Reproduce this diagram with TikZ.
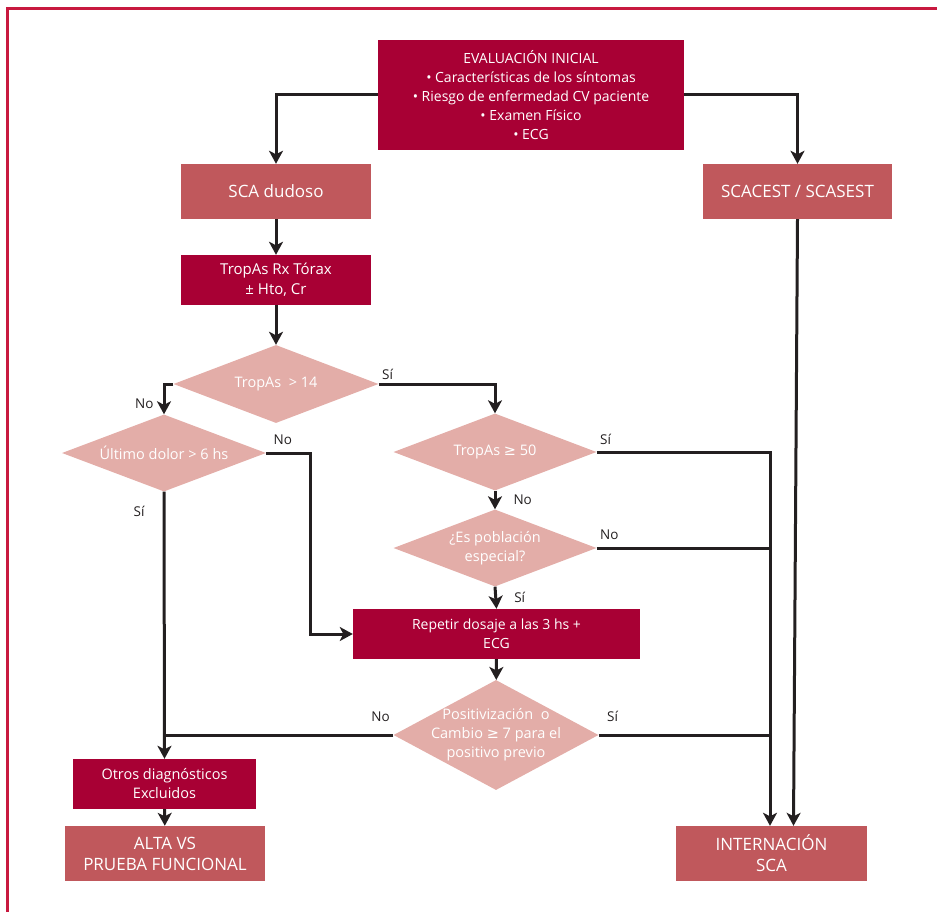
\documentclass[tikz,border=0pt]{standalone}
\usepackage{fontspec}
\setmainfont{Open Sans}
\newfontfamily\symfont{DejaVu Sans}
\usetikzlibrary{shapes.geometric, arrows.meta, positioning}
\newcommand{\geqsym}{{\symfont ≥}}
\definecolor{crimson}{HTML}{A80034}
\definecolor{rose}{HTML}{C0585C}
\definecolor{blush}{HTML}{E3ADA8}
\definecolor{ink}{HTML}{231F20}
\definecolor{framered}{HTML}{C8193F}
\tikzset{x=1pt, y=-1pt, % one unit is one pixel of the reference, y grows downwards
>={Stealth[length=13pt,width=14pt,inset=3.5pt]}, % bold arrow heads
flow/.style={draw=ink, line width=3pt}, % plain connector
flowarrow/.style={flow, ->}, % directed connector
darkbox/.style={fill=crimson, text=white, align=center, inner sep=0pt, font=\fontsize{14.5}{19}\selectfont},
lightbox/.style={fill=rose, text=white, align=center, inner sep=0pt, font=\fontsize{17}{21}\selectfont},
decision/.style={diamond, fill=blush, inner sep=0pt}, % the text is put in as a centre label
dectext/.style={text=white, align=center, font=\fontsize{14.5}{19}\selectfont},
answer/.style={text=ink, inner sep=2pt, font=\fontsize{13.5}{15}\selectfont}, % Sí / No
}

\begin{document}
\begin{tikzpicture}
    \useasboundingbox (0,0) rectangle (937,912);
    \draw[framered, line width=3pt] (7.5,912) -- (7.5,9) -- (937,9);

    \node[darkbox, minimum width=306pt, minimum height=110pt, font=\fontsize{14}{19}\selectfont] (eval) at (531,95)
        {EVALUACIÓN INICIAL\\• Características de los síntomas\\• Riesgo de enfermedad CV paciente\\• Examen Físico\\• ECG};
    \node[lightbox, minimum width=190pt, minimum height=55pt] (dudoso) at (276,191.5) {SCA dudoso};
    \node[lightbox, minimum width=189pt, minimum height=55pt] (scacest) at (797.5,191.5) {SCACEST / SCASEST};
    \node[darkbox, minimum width=190pt, minimum height=50pt, font=\fontsize{15}{20}\selectfont] (tropas) at (276,280) {TropAs Rx Tórax\\± Hto, Cr};

    \node[decision, minimum width=205pt, minimum height=78pt, label={[dectext]center:{TropAs\ \ > 14}}] (d1) at (276,384) {};
    \node[decision, minimum width=204pt, minimum height=77pt, label={[dectext]center:{Último dolor > 6 hs}}] (d2) at (164,453) {};
    \node[decision, minimum width=203pt, minimum height=77pt, label={[dectext]center:{TropAs \geqsym{} 50}}] (d3) at (495,452) {};
    \node[decision, minimum width=203pt, minimum height=77pt, label={[dectext]center:{¿Es población\\especial?}}] (d4) at (495,548) {};
    \node[darkbox, minimum width=287pt, minimum height=50pt, font=\fontsize{14}{19}\selectfont] (repetir) at (496.5,634) {Repetir dosaje a las 3 hs +\\ECG};
    \node[decision, minimum width=205pt, minimum height=110pt, label={[dectext]center:{Positivización\ \ o\\Cambio \geqsym{} 7 para el\\positivo previo}}] (d5) at (496,735) {};

    \node[darkbox, minimum width=183pt, minimum height=50pt] (otros) at (164.5,784) {Otros diagnósticos\\Excluidos};
    \node[lightbox, minimum width=200pt, minimum height=55pt] (alta) at (165,853.5) {ALTA VS\\PRUEBA FUNCIONAL};
    \node[lightbox, minimum width=191pt, minimum height=55pt] (intern) at (771.5,853.5) {INTERNACIÓN\\SCA};
    \coordinate (inL) at ([xshift=-1.5pt]intern.north);
    \coordinate (inR) at ([xshift=22pt]intern.north);

    \draw[flowarrow] (eval.west) -| (dudoso.north);
    \draw[flowarrow] (eval.east) -| (scacest.north);
    \draw[flowarrow] (dudoso) -- (tropas);
    \draw[flowarrow] (tropas) -- (d1);
    \draw[flowarrow] (d1.west) -| node[answer, pos=0.82, left=7pt] (no1) {No} (d2.north);
    \draw[flowarrow] (d1.east) -| node[answer, at start, above right=1pt and 0pt] (si1) {Sí} (d3.north);
    \draw[flowarrow] (d2.east) -- node[answer, at start, above right=5pt and 4pt] (no2) {No} ++(44,0) |- (repetir.west);
    \draw[flowarrow] (d2.south) -- node[answer, pos=0.075, left=16pt] (si2) {Sí} (otros.north);
    \draw[flowarrow] (d3.east) -| node[answer, at start, above right=4pt and 0pt] (si3) {Sí} (inL);
    \draw[flowarrow] (d3.south) -- node[answer, right=15pt] (no3) {No} (d4.north);
    \draw[flow] (d4.east) -- node[answer, at start, above right=5pt and 0pt] (no4) {No} (d4.east -| inL);
    \draw[flowarrow] (d4.south) -- node[answer, right=15pt] (si4) {Sí} (repetir.north);
    \draw[flowarrow] (repetir) -- (d5);
    \draw[flow] (d5.west) -- node[answer, at start, above left=10pt and 0pt] (no5) {No} (d5.west -| d2.south);
    \draw[flow] (d5.east) -- node[answer, at start, above right=10pt and 5pt] (si5) {Sí} (d5.east -| inL);
    \draw[flowarrow] (otros) -- (alta);
    \draw[flowarrow] (scacest.south) -- (inR);
\end{tikzpicture}
\end{document}
